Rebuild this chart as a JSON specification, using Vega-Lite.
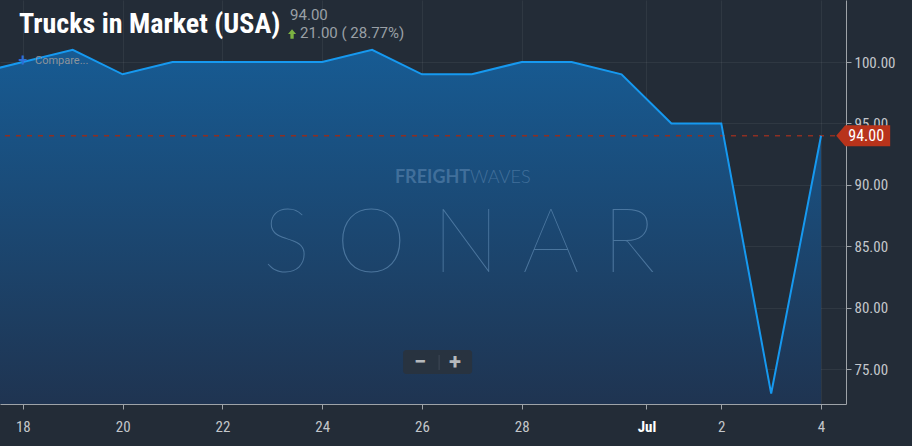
{
  "$schema": "https://vega.github.io/schema/vega-lite/v6.json",
  "width": 846,
  "height": 404,
  "autosize": {"type": "none"},
  "padding": {"left": 0, "top": 0, "right": 66, "bottom": 42},
  "background": "#232c37",
  "title": {
    "text": "Trucks in Market (USA)",
    "anchor": "start",
    "orient": "top",
    "frame": "group",
    "offset": -33,
    "dy": 28,
    "baseline": "alphabetic",
    "dx": 19,
    "font": "Roboto Condensed, Liberation Sans Narrow, DejaVu Sans Condensed, Roboto",
    "fontSize": 28,
    "fontWeight": "bold",
    "color": "#ffffff"
  },
  "config": {
    "view": {"stroke": null},
    "axis": {
      "zindex": 1,
      "domainColor": "#9ea3a8",
      "tickColor": "#9ea3a8",
      "labelColor": "#c3c7cb",
      "labelFont": "Roboto Condensed, Liberation Sans Narrow, DejaVu Sans Condensed, Roboto",
      "labelFontSize": 15,
      "gridColor": "#ffffff",
      "gridOpacity": 0.06,
      "tickSize": 5,
      "title": null
    }
  },
  "datasets": {
    "one": [{}]
  },
  "data": {
    "values": [
      {"date": "2019-06-17", "trucks": 99},
      {"date": "2019-06-18", "trucks": 100},
      {"date": "2019-06-19", "trucks": 101},
      {"date": "2019-06-20", "trucks": 99},
      {"date": "2019-06-21", "trucks": 100},
      {"date": "2019-06-22", "trucks": 100},
      {"date": "2019-06-23", "trucks": 100},
      {"date": "2019-06-24", "trucks": 100},
      {"date": "2019-06-25", "trucks": 101},
      {"date": "2019-06-26", "trucks": 99},
      {"date": "2019-06-27", "trucks": 99},
      {"date": "2019-06-28", "trucks": 100},
      {"date": "2019-06-29", "trucks": 100},
      {"date": "2019-06-30", "trucks": 99},
      {"date": "2019-07-01", "trucks": 95},
      {"date": "2019-07-02", "trucks": 95},
      {"date": "2019-07-03", "trucks": 73},
      {"date": "2019-07-04", "trucks": 94}
    ]
  },
  "layer": [
    {
      "mark": {
        "type": "area",
        "clip": true,
        "color": {
          "gradient": "linear", "x1": 0, "y1": 0, "x2": 0, "y2": 1,
          "stops": [
            {"offset": 0, "color": "#175b93"},
            {"offset": 1, "color": "#1f3451"}
          ]
        }
      },
      "encoding": {
        "x": {
          "field": "date",
          "type": "temporal",
          "scale": {
            "type": "utc",
            "domain": [
              {"year": 2019, "month": 6, "date": 17, "hours": 13, "utc": true},
              {"year": 2019, "month": 7, "date": 4, "hours": 12, "utc": true}
            ]
          },
          "axis": {
            "orient": "bottom",
            "labelPadding": 10,
            "values": [
              {"year": 2019, "month": 6, "date": 18, "utc": true},
              {"year": 2019, "month": 6, "date": 20, "utc": true},
              {"year": 2019, "month": 6, "date": 22, "utc": true},
              {"year": 2019, "month": 6, "date": 24, "utc": true},
              {"year": 2019, "month": 6, "date": 26, "utc": true},
              {"year": 2019, "month": 6, "date": 28, "utc": true},
              {"year": 2019, "month": 6, "date": 30, "hours": 12, "utc": true},
              {"year": 2019, "month": 7, "date": 2, "utc": true},
              {"year": 2019, "month": 7, "date": 4, "utc": true}
            ],
            "labelExpr": "utcdate(datum.value) == 30 ? 'Jul' : utcFormat(datum.value, '%-d')",
            "labelFontWeight": {"condition": {"test": "utcdate(datum.value) == 30", "value": "bold"}, "value": "normal"},
            "labelColor": {"condition": {"test": "utcdate(datum.value) == 30", "value": "#ffffff"}, "value": "#c3c7cb"},
            "labelOverlap": false
          }
        },
        "y": {
          "field": "trucks",
          "type": "quantitative",
          "scale": {"domain": [72.15, 105.05], "zero": false, "nice": false},
          "axis": {
            "orient": "right",
            "values": [75, 80, 85, 90, 95, 100],
            "format": ".2f",
            "labelPadding": 3
          }
        },
        "y2": {"datum": 72.15}
      }
    },
    {
      "data": {"name": "one"},
      "mark": {"type": "text", "font": "Lato, Roboto", "fontWeight": 100, "fontSize": 90, "align": "center", "baseline": "alphabetic", "color": "#6a95bd", "opacity": 0.6},
      "encoding": {
        "x": {"datum": {"year": 2019, "month": 6, "date": 26, "hours": 17, "minutes": 52, "utc": true}, "type": "temporal"},
        "y": {"datum": 82.9, "type": "quantitative"},
        "text": {"value": "S  O  N  A  R"}
      }
    },
    {
      "data": {"name": "one"},
      "mark": {"type": "text", "font": "Lato, Roboto", "fontWeight": "bold", "fontSize": 18, "align": "right", "baseline": "alphabetic", "color": "#5b86b0", "opacity": 0.6},
      "encoding": {
        "x": {"datum": {"year": 2019, "month": 6, "date": 26, "hours": 23, "minutes": 10, "utc": true}, "type": "temporal"},
        "y": {"datum": 90.15, "type": "quantitative"},
        "text": {"value": "FREIGHT"}
      }
    },
    {
      "data": {"name": "one"},
      "mark": {"type": "text", "font": "Lato, Roboto", "fontWeight": 300, "fontSize": 18, "align": "left", "baseline": "alphabetic", "color": "#5b86b0", "opacity": 0.6},
      "encoding": {
        "x": {"datum": {"year": 2019, "month": 6, "date": 26, "hours": 23, "minutes": 10, "utc": true}, "type": "temporal"},
        "y": {"datum": 90.15, "type": "quantitative"},
        "text": {"value": "WAVES"}
      }
    },
    {
      "data": {"name": "one"},
      "mark": {"type": "rule", "color": "#8e2f22", "strokeWidth": 1.5, "strokeDash": [5, 6]},
      "encoding": {
        "y": {"datum": 94, "type": "quantitative"}
      }
    },
    {
      "mark": {"type": "line", "clip": true, "color": "#1699f0", "strokeWidth": 2},
      "encoding": {
        "x": {"field": "date", "type": "temporal"},
        "y": {"field": "trucks", "type": "quantitative"}
      }
    },
    {
      "data": {"name": "one"},
      "mark": {"type": "point", "filled": true, "opacity": 1, "size": 2916, "color": "#b8331b",
               "shape": "M -1 0 L -0.667 -0.389 L 1 -0.389 L 1 0.389 L -0.667 0.389 Z"},
      "encoding": {
        "x": {"datum": {"year": 2019, "month": 7, "date": 4, "hours": 20, "minutes": 17, "utc": true}, "type": "temporal"},
        "y": {"datum": 94, "type": "quantitative"}
      }
    },
    {
      "data": {"name": "one"},
      "mark": {"type": "text", "font": "Roboto Condensed, Liberation Sans Narrow, DejaVu Sans Condensed, Roboto", "fontSize": 16, "align": "center", "baseline": "middle", "color": "#ffffff"},
      "encoding": {
        "x": {"datum": {"year": 2019, "month": 7, "date": 4, "hours": 21, "minutes": 42, "utc": true}, "type": "temporal"},
        "y": {"datum": 94, "type": "quantitative"},
        "text": {"value": "94.00"}
      }
    },
    {
      "data": {"name": "one"},
      "mark": {"type": "rect", "color": "#29333f", "cornerRadius": 3, "opacity": 0.95},
      "encoding": {
        "x": {"datum": {"year": 2019, "month": 6, "date": 25, "hours": 14, "minutes": 55, "utc": true}, "type": "temporal"},
        "x2": {"datum": {"year": 2019, "month": 6, "date": 27, "hours": 0, "minutes": 8, "utc": true}},
        "y": {"datum": 76.55, "type": "quantitative"},
        "y2": {"datum": 74.59}
      }
    },
    {
      "data": {"name": "one"},
      "mark": {"type": "rule", "color": "#3e4956", "strokeWidth": 1},
      "encoding": {
        "x": {"datum": {"year": 2019, "month": 6, "date": 26, "hours": 8, "minutes": 15, "utc": true}, "type": "temporal"},
        "y": {"datum": 76.14, "type": "quantitative"},
        "y2": {"datum": 74.92}
      }
    },
    {
      "data": {"name": "one"},
      "mark": {"type": "text", "font": "Roboto", "fontWeight": "bold", "fontSize": 22, "align": "center", "baseline": "middle", "color": "#b5b9bd"},
      "encoding": {
        "x": {"datum": {"year": 2019, "month": 6, "date": 25, "hours": 23, "minutes": 6, "utc": true}, "type": "temporal"},
        "y": {"datum": 75.6, "type": "quantitative"},
        "text": {"value": "−"}
      }
    },
    {
      "data": {"name": "one"},
      "mark": {"type": "text", "font": "Roboto", "fontWeight": "bold", "fontSize": 22, "align": "center", "baseline": "middle", "color": "#b5b9bd"},
      "encoding": {
        "x": {"datum": {"year": 2019, "month": 6, "date": 26, "hours": 15, "minutes": 57, "utc": true}, "type": "temporal"},
        "y": {"datum": 75.6, "type": "quantitative"},
        "text": {"value": "+"}
      }
    },
    {
      "data": {"name": "one"},
      "mark": {"type": "text", "font": "Roboto", "fontSize": 15, "align": "left", "baseline": "middle", "color": "#9aa0a6"},
      "encoding": {
        "x": {"datum": {"year": 2019, "month": 6, "date": 23, "hours": 8, "minutes": 33, "utc": true}, "type": "temporal"},
        "y": {"datum": 103.83, "type": "quantitative"},
        "text": {"value": "94.00"}
      }
    },
    {
      "data": {"name": "one"},
      "mark": {"type": "point", "filled": true, "opacity": 1, "size": 90, "color": "#7cb342",
               "shape": "M 0 -1 L 0.85 0 L 0.35 0 L 0.35 1 L -0.35 1 L -0.35 0 L -0.85 0 Z"},
      "encoding": {
        "x": {"datum": {"year": 2019, "month": 6, "date": 23, "hours": 9, "minutes": 30, "utc": true}, "type": "temporal"},
        "y": {"datum": 102.28, "type": "quantitative"}
      }
    },
    {
      "data": {"name": "one"},
      "mark": {"type": "text", "font": "Roboto", "fontSize": 15, "align": "left", "baseline": "middle", "color": "#9aa0a6"},
      "encoding": {
        "x": {"datum": {"year": 2019, "month": 6, "date": 23, "hours": 13, "minutes": 22, "utc": true}, "type": "temporal"},
        "y": {"datum": 102.36, "type": "quantitative"},
        "text": {"value": "21.00 ( 28.77%)"}
      }
    },
    {
      "data": {"name": "one"},
      "mark": {"type": "text", "font": "Roboto", "fontWeight": "bold", "fontSize": 16, "align": "center", "baseline": "middle", "color": "#2f6fd6"},
      "encoding": {
        "x": {"datum": {"year": 2019, "month": 6, "date": 18, "utc": true}, "type": "temporal"},
        "y": {"datum": 100.08, "type": "quantitative"},
        "text": {"value": "+"}
      }
    },
    {
      "data": {"name": "one"},
      "mark": {"type": "text", "font": "Roboto", "fontSize": 11, "align": "left", "baseline": "middle", "color": "#8d949b"},
      "encoding": {
        "x": {"datum": {"year": 2019, "month": 6, "date": 18, "hours": 5, "minutes": 50, "utc": true}, "type": "temporal"},
        "y": {"datum": 100.08, "type": "quantitative"},
        "text": {"value": "Compare..."}
      }
    }
  ]
}
